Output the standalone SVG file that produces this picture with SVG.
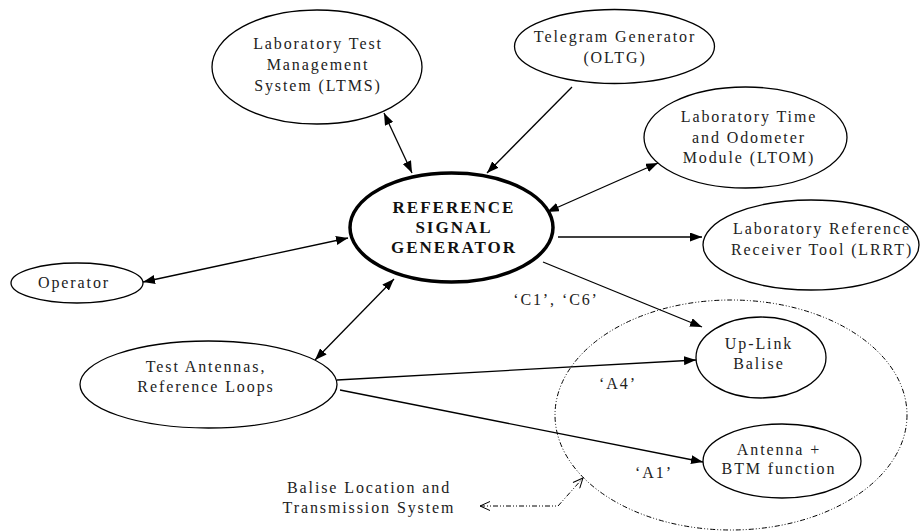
<svg xmlns="http://www.w3.org/2000/svg" width="922" height="531" viewBox="0 0 922 531">
<defs>
<style>
.n{fill:#fff;stroke:#000;stroke-width:1.3}
.main{fill:#fff;stroke:#000;stroke-width:3.5}
.t{font-family:'Liberation Serif','Times New Roman',Times,'DejaVu Serif',serif;font-size:16px;letter-spacing:1.9px;fill:#222;text-anchor:middle}
.b{font-family:'Liberation Serif','Times New Roman',Times,'DejaVu Serif',serif;font-size:17px;font-weight:bold;letter-spacing:2px;fill:#111;text-anchor:middle}
.c{fill:none;stroke:#000;stroke-width:1.3}
.dd{fill:none;stroke:#000;stroke-width:1;stroke-dasharray:5 2 1 2 1 2}
</style>
<marker id="ah" viewBox="0 0 12 9" refX="12" refY="4.5" markerWidth="12" markerHeight="9" markerUnits="userSpaceOnUse" orient="auto-start-reverse">
<path d="M0,0 L12,4.5 L0,9 z" fill="#000"/>
</marker>
<marker id="oa" viewBox="0 0 12 10" refX="11" refY="5" markerWidth="12" markerHeight="10" markerUnits="userSpaceOnUse" orient="auto-start-reverse">
<path d="M1,0.5 L11,5 L1,9.5" fill="none" stroke="#000" stroke-width="1"/>
</marker>
</defs>
<rect width="922" height="531" fill="#fff"/>

<g id="blts-boundary">
<ellipse class="dd" cx="731" cy="415" rx="176" ry="115"/>
</g>

<g id="connectors">
<line class="c" x1="384" y1="113" x2="412" y2="173" marker-start="url(#ah)" marker-end="url(#ah)"/>
<line class="c" x1="572" y1="87" x2="487" y2="173" marker-end="url(#ah)"/>
<line class="c" x1="547" y1="212" x2="658" y2="163" marker-start="url(#ah)" marker-end="url(#ah)"/>
<line class="c" x1="558" y1="237" x2="702" y2="237" marker-end="url(#ah)"/>
<line class="c" x1="543" y1="262" x2="702" y2="327" marker-end="url(#ah)"/>
<line class="c" x1="143" y1="282" x2="348" y2="238" marker-start="url(#ah)" marker-end="url(#ah)"/>
<line class="c" x1="315" y1="360" x2="394" y2="279" marker-start="url(#ah)" marker-end="url(#ah)"/>
<line class="c" x1="337" y1="380" x2="696" y2="360" marker-end="url(#ah)"/>
<line class="c" x1="340" y1="390" x2="703" y2="462" marker-end="url(#ah)"/>
<polyline class="dd" points="480,506 558,506 583,478" marker-start="url(#oa)" marker-end="url(#oa)"/>
<text class="t" x="556" y="305">‘C1’, ‘C6’</text>
<text class="t" x="618" y="389">‘A4’</text>
<text class="t" x="654" y="478">‘A1’</text>
</g>

<g id="ltms">
<ellipse class="n" cx="317" cy="67" rx="105" ry="57"/>
<text class="t" x="318" y="49">Laboratory Test</text>
<text class="t" x="318" y="70">Management</text>
<text class="t" x="318" y="91">System (LTMS)</text>
</g>

<g id="oltg">
<ellipse class="n" cx="614.5" cy="46.5" rx="100" ry="37"/>
<text class="t" x="615" y="42">Telegram Generator</text>
<text class="t" x="615" y="63">(OLTG)</text>
</g>

<g id="ltom">
<ellipse class="n" cx="745.5" cy="137.5" rx="101.5" ry="50.5"/>
<text class="t" x="749" y="122">Laboratory Time</text>
<text class="t" x="749" y="143">and Odometer</text>
<text class="t" x="749" y="163">Module (LTOM)</text>
</g>

<g id="lrrt">
<ellipse class="n" cx="811" cy="245" rx="108" ry="45"/>
<text class="t" x="822" y="234">Laboratory Reference</text>
<text class="t" x="822" y="255">Receiver Tool (LRRT)</text>
</g>

<g id="rsg">
<ellipse class="main" cx="451.5" cy="227.5" rx="101.5" ry="54.5"/>
<text class="b" x="454" y="213">REFERENCE</text>
<text class="b" x="454" y="233">SIGNAL</text>
<text class="b" x="454" y="253">GENERATOR</text>
</g>

<g id="operator">
<ellipse class="n" cx="77" cy="283" rx="66" ry="20"/>
<text class="t" x="74" y="288">Operator</text>
</g>

<g id="test-antennas">
<ellipse class="n" cx="208.5" cy="384.5" rx="128.5" ry="43.5"/>
<text class="t" x="206" y="372">Test Antennas,</text>
<text class="t" x="206" y="392">Reference Loops</text>
</g>

<g id="uplink">
<ellipse class="n" cx="761" cy="357.5" rx="65" ry="40.5"/>
<text class="t" x="759" y="349">Up-Link</text>
<text class="t" x="759" y="369">Balise</text>
</g>

<g id="antenna-btm">
<ellipse class="n" cx="782" cy="461" rx="79" ry="37"/>
<text class="t" x="779" y="455">Antenna +</text>
<text class="t" x="779" y="474">BTM function</text>
</g>

<g id="blts-label">
<text class="t" x="369" y="493">Balise Location and</text>
<text class="t" x="369" y="513">Transmission System</text>
</g>
</svg>
